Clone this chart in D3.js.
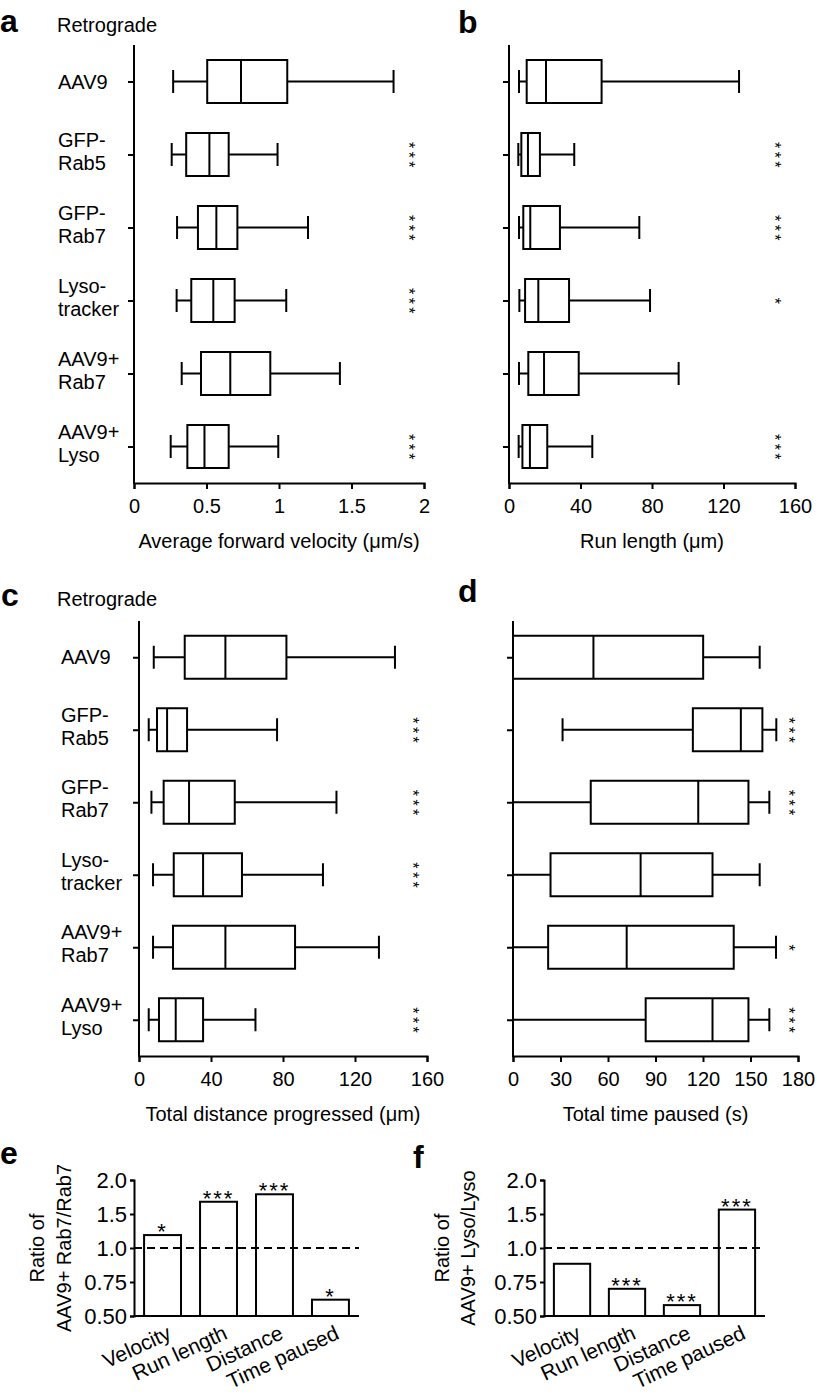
<!DOCTYPE html>
<meta charset="utf-8">
<head>
<script src="https://cdn.jsdelivr.net/npm/d3@7"></script>
<style>
  body { margin: 0; background: #fff; }
  svg text { font-family: 'Liberation Sans', Arial, Helvetica, sans-serif; fill: #000; }
</style>
</head>
<body>
<div id="fig"></div>
<script>
// groups (rows of the box plots)
var groups = ["AAV9", "GFP-Rab5", "GFP-Rab7", "Lysotracker", "AAV9+Rab7", "AAV9+Lyso"];
var groupLabels = [["AAV9"], ["GFP-", "Rab5"], ["GFP-", "Rab7"], ["Lyso-", "tracker"], ["AAV9+", "Rab7"], ["AAV9+", "Lyso"]];

// box stats: [whisker low, Q1, median, Q3, whisker high]
var velocityStats = [[0.27, 0.505, 0.738, 1.057, 1.79], [0.26, 0.36, 0.52, 0.653, 0.99], [0.297, 0.441, 0.568, 0.713, 1.2],
                     [0.294, 0.395, 0.547, 0.694, 1.05], [0.329, 0.462, 0.664, 0.94, 1.42], [0.253, 0.368, 0.486, 0.653, 0.995]];
var runLengthStats = [[5.6, 9.9, 20.7, 51.8, 128.7], [5.2, 6.9, 10.6, 17.3, 36.5], [5.6, 8.0, 11.9, 28.5, 72.9],
                      [5.8, 9.0, 16.4, 33.6, 78.9], [5.6, 10.8, 19.6, 39.0, 94.9], [5.4, 7.5, 11.7, 21.4, 46.6]];
var distanceStats = [[8.2, 25.4, 48, 81.9, 142.2], [5.4, 10, 15.6, 26.7, 76.7], [6.9, 13.7, 27.8, 53.2, 109.7],
                     [7.8, 19.3, 35.6, 57.2, 102.2], [7.8, 18.9, 48, 86.7, 133.3], [5.4, 11.1, 20.4, 35.6, 64.7]];
var pausedStats = [[0, 0, 50.8, 120.1, 155.8], [31.3, 113.6, 143.9, 157.5, 166.3], [0, 49.1, 117, 148.7, 161.9],
                   [0, 23.7, 80.6, 126, 155.8], [0, 22.2, 71.8, 139.4, 166.1], [0, 83.8, 126, 148.7, 161.9]];

// significance stars per group
var velocityStars = ["", "***", "***", "***", "", "***"];
var runLengthStars = ["", "***", "***", "*", "", "***"];
var distanceStars = ["", "***", "***", "***", "", "***"];
var pausedStars = ["", "***", "***", "", "*", "***"];

// x ticks
var velocityTicks = [0, 0.5, 1, 1.5, 2];
var runLengthTicks = [0, 40, 80, 120, 160];
var distanceTicks = [0, 40, 80, 120, 160];
var pausedTicks = [0, 30, 60, 90, 120, 150, 180];

// ratio bar charts
var ratioCategories = ["Velocity", "Run length", "Distance", "Time paused"];
var ratioRab7 = [1.19, 1.68, 1.79, 0.62];
var ratioLyso = [0.884, 0.70, 0.58, 1.565];
var ratioRab7Stars = ["*", "***", "***", "*"];
var ratioLysoStars = ["", "***", "***", "***"];
var ratioTicks = [0.5, 0.75, 1, 1.5, 2];
var ratioTickLabels = ["0.50", "0.75", "1.0", "1.5", "2.0"];

var svg = d3.select("#fig").append("svg")
    .attr("width", 819)
    .attr("height", 1400);

function panelLetter(txt, x, y) {
    svg.append("text").attr("x", x).attr("y", y)
        .style("font-size", "32px").style("font-weight", "bold")
        .text(txt);
}

function boxPanel(p) {
    var g = svg.append("g");
    var x = d3.scaleLinear().domain(p.domain).range([p.x0, p.x1]);
    var y = d3.scalePoint().domain(groups).range([p.y0, p.y1]).padding(0.5);
    var boxH = 43, capH = 23;

    // x axis
    var xa = g.append("g")
        .attr("transform", "translate(0," + p.y1 + ")")
        .call(d3.axisBottom(x).tickValues(p.ticks).tickSizeOuter(0).tickSize(6).tickPadding(10)
            .tickFormat(d3.format("")));
    // y axis
    var ya = g.append("g")
        .attr("transform", "translate(" + p.x0 + ",0)")
        .call(d3.axisLeft(y).tickSizeOuter(0).tickSize(6).tickFormat(""));
    [xa, ya].forEach(function(a) {
        a.selectAll("path, line").attr("stroke", "#000").attr("stroke-width", 2);
        a.selectAll("text").style("font-size", "20px").attr("fill", "#000");
    });
    ya.select(".domain").attr("d", "M0," + p.y0 + "V" + (p.y1 + 1));

    // axis title
    g.append("text")
        .attr("x", (p.x0 + p.x1) / 2).attr("y", p.y1 + 65)
        .attr("text-anchor", "middle")
        .style("font-size", "20px")
        .text(p.title);

    // group labels
    if (p.labelX != null) {
        groupLabels.forEach(function(lines, i) {
            var cy = y(groups[i]);
            var t = g.append("text").attr("x", p.labelX).style("font-size", "20px");
            if (lines.length == 1) {
                t.attr("y", cy + 7).text(lines[0]);
            } else {
                t.append("tspan").attr("x", p.labelX).attr("y", cy - 8).text(lines[0]);
                t.append("tspan").attr("x", p.labelX).attr("y", cy + 15).text(lines[1]);
            }
        });
    }

    var rows = g.selectAll("g.row")
        .data(p.stats)
        .enter().append("g")
        .attr("class", "row")
        .attr("transform", function(d, i) { return "translate(0," + y(groups[i]) + ")"; });

    // whiskers
    rows.append("line")
        .attr("x1", function(d) { return x(d[0]); }).attr("x2", function(d) { return x(d[1]); })
        .attr("y1", 0).attr("y2", 0);
    rows.append("line")
        .attr("x1", function(d) { return x(d[3]); }).attr("x2", function(d) { return x(d[4]); })
        .attr("y1", 0).attr("y2", 0);
    rows.append("line")
        .attr("x1", function(d) { return x(d[0]); }).attr("x2", function(d) { return x(d[0]); })
        .attr("y1", -capH / 2).attr("y2", capH / 2);
    rows.append("line")
        .attr("x1", function(d) { return x(d[4]); }).attr("x2", function(d) { return x(d[4]); })
        .attr("y1", -capH / 2).attr("y2", capH / 2);
    // box
    rows.append("rect")
        .attr("x", function(d) { return x(d[1]); })
        .attr("width", function(d) { return x(d[3]) - x(d[1]); })
        .attr("y", -boxH / 2).attr("height", boxH)
        .attr("fill", "#fff");
    // median
    rows.append("line")
        .attr("x1", function(d) { return x(d[2]); }).attr("x2", function(d) { return x(d[2]); })
        .attr("y1", -boxH / 2).attr("y2", boxH / 2);
    rows.selectAll("line, rect").attr("stroke", "#000").attr("stroke-width", 2);

    // significance stars, one rotated text per row (reads top to bottom)
    g.selectAll("text.sig")
        .data(p.stars)
        .enter().append("text")
        .attr("class", "sig")
        .attr("text-anchor", "middle")
        .style("font-size", "16px")
        .style("letter-spacing", "3.5px")
        .attr("transform", function(d, i) {
            return "translate(" + (p.starX - 9) + "," + (y(groups[i]) + 2) + ") rotate(90)";
        })
        .text(function(d) { return d; });
}

function ratioPanel(p) {
    var g = svg.append("g");
    var x = d3.scaleBand().domain(ratioCategories).range([p.x0, p.x1]).paddingInner(0.34).paddingOuter(0.18);
    // ticks are evenly spaced: 0.25 per step below 1, 0.5 per step above 1
    var y = d3.scaleLinear().domain([0.5, 1, 2]).range([1316, 1248, 1180]);

    // bars
    g.selectAll("rect.bar")
        .data(p.values)
        .enter().append("rect")
        .attr("x", function(d, i) { return x(ratioCategories[i]); })
        .attr("width", x.bandwidth())
        .attr("y", function(d) { return y(d); })
        .attr("height", function(d) { return y(0.5) - y(d); })
        .attr("fill", "#fff").attr("stroke", "#000").attr("stroke-width", 2);

    // dashed reference line at 1
    g.append("line")
        .attr("x1", p.x0).attr("x2", p.x1)
        .attr("y1", y(1)).attr("y2", y(1))
        .attr("stroke", "#000").attr("stroke-width", 2)
        .attr("stroke-dasharray", "8,5");

    var ya = g.append("g")
        .attr("transform", "translate(" + p.x0 + ",0)")
        .call(d3.axisLeft(y).tickValues(ratioTicks).tickSizeOuter(0).tickSize(4).tickPadding(3)
            .tickFormat(function(d, i) { return ratioTickLabels[i]; }));
    var xa = g.append("g")
        .attr("transform", "translate(0," + y(0.5) + ")")
        .call(d3.axisBottom(x).tickSizeOuter(0).tickSize(0));
    [xa, ya].forEach(function(a) {
        a.selectAll("path, line").attr("stroke", "#000").attr("stroke-width", 2);
        a.selectAll("text").attr("fill", "#000");
    });
    ya.selectAll("text").style("font-size", "22px");
    xa.select(".domain").attr("d", "M" + p.x0 + ",0H" + p.x1);
    xa.selectAll("text")
        .style("font-size", "21px")
        .attr("text-anchor", "end")
        .attr("x", 0).attr("y", 0).attr("dy", 0)
        .attr("transform", "translate(10,22) rotate(-25)");

    // stars on top of bars
    g.selectAll("text.star")
        .data(p.stars)
        .enter().append("text")
        .attr("x", function(d, i) { return x(ratioCategories[i]) + x.bandwidth() / 2; })
        .attr("y", function(d, i) { return y(p.values[i]) + 4; })
        .attr("text-anchor", "middle")
        .style("font-size", "22px")
        .style("letter-spacing", "2px")
        .text(function(d) { return d; });

    // y title, two lines
    var cy = (y(0.5) + y(2)) / 2;
    g.append("text")
        .attr("transform", "translate(" + p.lab1X + "," + cy + ") rotate(-90)")
        .attr("text-anchor", "middle").style("font-size", "20px")
        .text("Ratio of");
    g.append("text")
        .attr("transform", "translate(" + p.lab2X + "," + cy + ") rotate(-90)")
        .attr("text-anchor", "middle").style("font-size", "20px")
        .text(p.label);
}

// a
panelLetter("a", 0, 32);
svg.append("text").attr("x", 57).attr("y", 32).style("font-size", "20px").text("Retrograde");
boxPanel({stats: velocityStats, stars: velocityStars, domain: [0, 2], ticks: velocityTicks,
          x0: 134, x1: 424, y0: 45, y1: 483, labelX: 58, starX: 412,
          title: "Average forward velocity (\u03bcm/s)"});
// b
panelLetter("b", 458, 33);
boxPanel({stats: runLengthStats, stars: runLengthStars, domain: [0, 160], ticks: runLengthTicks,
          x0: 509, x1: 795, y0: 45, y1: 483, labelX: null, starX: 778,
          title: "Run length (\u03bcm)"});
// c
panelLetter("c", 1, 606);
svg.append("text").attr("x", 57).attr("y", 606).style("font-size", "20px").text("Retrograde");
boxPanel({stats: distanceStats, stars: distanceStars, domain: [0, 160], ticks: distanceTicks,
          x0: 139, x1: 427, y0: 621, y1: 1056, labelX: 61, starX: 416,
          title: "Total distance progressed (\u03bcm)"});
// d
panelLetter("d", 458, 602);
boxPanel({stats: pausedStats, stars: pausedStars, domain: [0, 180], ticks: pausedTicks,
          x0: 513, x1: 798, y0: 621, y1: 1056, labelX: null, starX: 792,
          title: "Total time paused (s)"});
// e
panelLetter("e", 0, 1164);
ratioPanel({values: ratioRab7, stars: ratioRab7Stars, x0: 134, x1: 359,
            lab1X: 44, lab2X: 71, label: "AAV9+ Rab7/Rab7"});
// f
panelLetter("f", 413, 1168);
ratioPanel({values: ratioLyso, stars: ratioLysoStars, x0: 544, x1: 765,
            lab1X: 449, lab2X: 475, label: "AAV9+ Lyso/Lyso"});
</script>
</body>
